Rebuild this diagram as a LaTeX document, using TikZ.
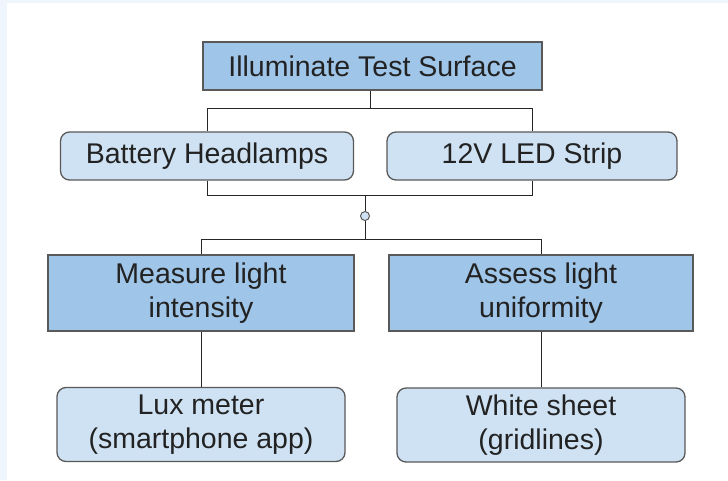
\documentclass[tikz,border=0pt]{standalone}
\usepackage{fontspec}
\setmainfont{Liberation Sans}
\definecolor{bgblue}{HTML}{EFF5FD}
\definecolor{darkfill}{HTML}{9FC5E8}
\definecolor{lightfill}{HTML}{CFE2F3}
\definecolor{edge}{HTML}{595959}
\definecolor{txt}{HTML}{222222}
\tikzset{
  box/.style={draw=edge, line width=1.3pt, text=txt, align=center, inner sep=0pt,
    font=\fontsize{28.5}{34}\selectfont},
  mainbox/.style={box, fill=darkfill},
  subbox/.style={box, fill=lightfill, rounded corners=9pt},
  conn/.style={draw=black!85, line width=0.9pt},
}
\begin{document}
\begin{tikzpicture}[x=1pt,y=-1pt]
\useasboundingbox (0,0) rectangle (728,480);
\fill[white] (0,0) rectangle (728,480);
\fill[bgblue] (0,0) rectangle (7,480);
\fill[bgblue] (0,0) rectangle (728,3);

\node[mainbox, minimum width=339pt, minimum height=48pt] (top) at (372.5,66) {Illuminate Test Surface};
\node[subbox, minimum width=293pt, minimum height=48pt] (bat) at (207,156) {Battery Headlamps};
\node[subbox, minimum width=290pt, minimum height=48pt] (led) at (532,156) {12V LED Strip};
\node[mainbox, minimum width=306pt, minimum height=76pt] (meas) at (201,293) {Measure light\\intensity};
\node[mainbox, minimum width=304pt, minimum height=76pt] (assess) at (541,293) {Assess light\\uniformity};
\node[subbox, minimum width=288pt, minimum height=74pt] (lux) at (201,424.5) {Lux meter\\(smartphone app)};
\node[subbox, minimum width=288pt, minimum height=74pt] (sheet) at (541,425) {White sheet\\(gridlines)};
\node[circle, draw=edge, fill=lightfill, line width=1pt, minimum size=9pt, inner sep=0pt] (c) at (365,216) {};

\coordinate (j1) at (370,108);
\coordinate (b1) at (365,195);
\coordinate (b2) at (365,239);

\draw[conn] (top.south -| j1) -- (j1);
\draw[conn] (j1) -| (bat.north);
\draw[conn] (j1) -| (led.north);
\draw[conn] (bat.south) |- (b1);
\draw[conn] (led.south) |- (b1);
\draw[conn] (b1) -- (c.north);
\draw[conn] (c.south) -- (b2);
\draw[conn] (b2) -| (meas.north);
\draw[conn] (b2) -| (assess.north);
\draw[conn] (meas.south) -- (lux.north);
\draw[conn] (assess.south) -- (sheet.north);
\end{tikzpicture}
\end{document}
